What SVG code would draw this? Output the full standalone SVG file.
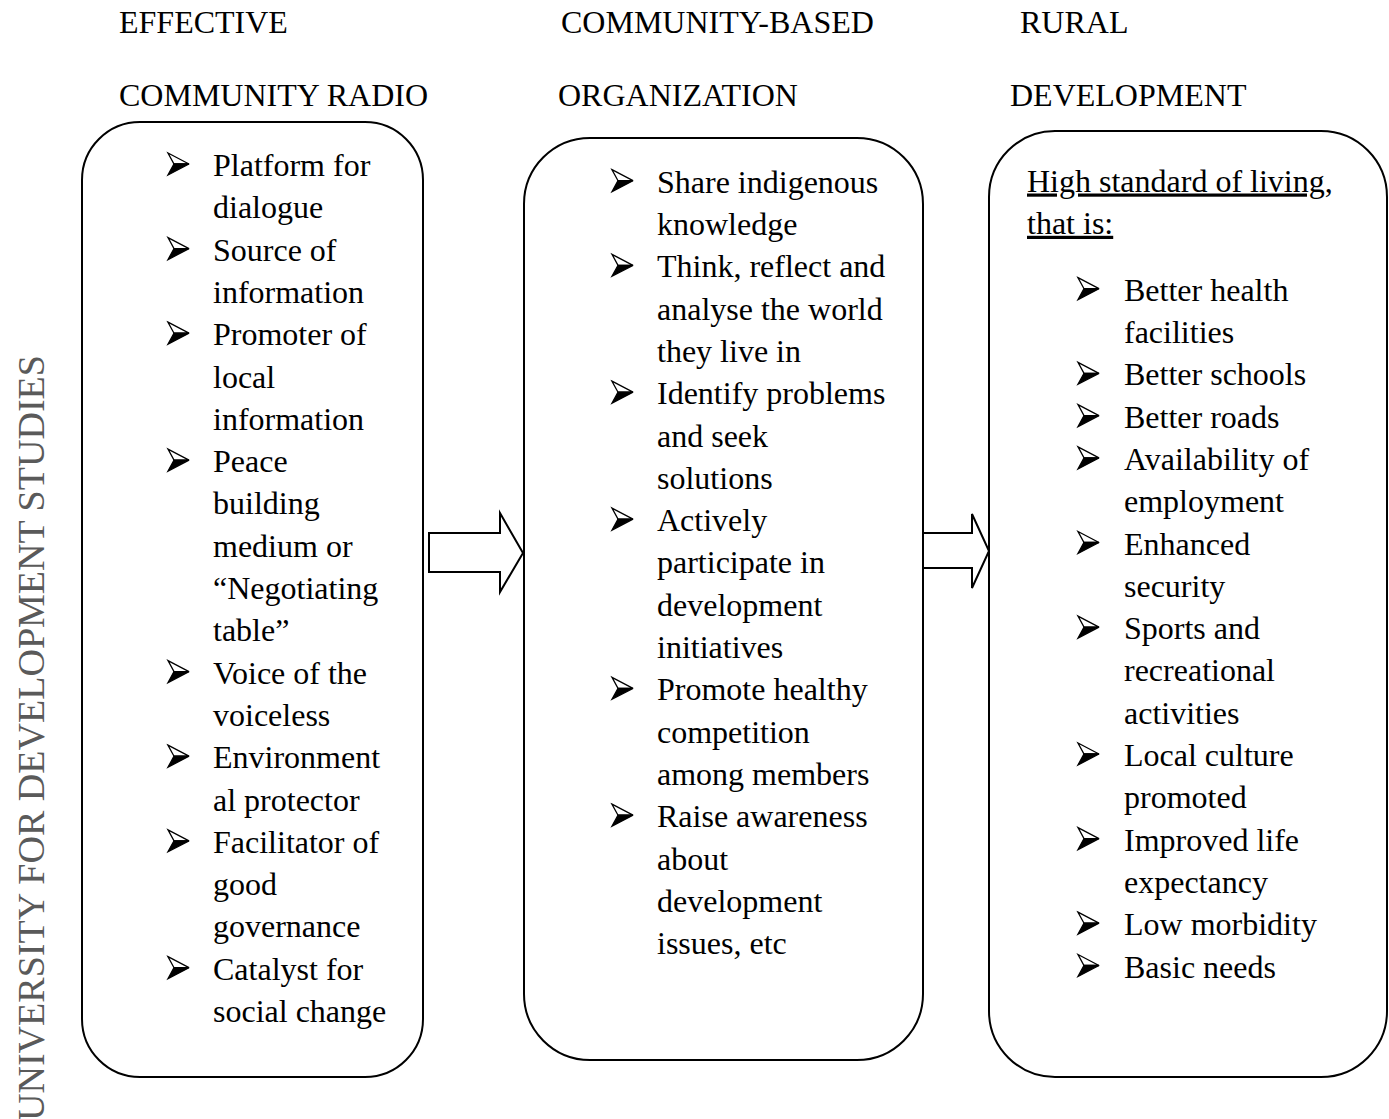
<svg xmlns="http://www.w3.org/2000/svg" xmlns:xlink="http://www.w3.org/1999/xlink" width="1389" height="1119" viewBox="0 0 1389 1119">
  <style>
    .t { font-family: "Liberation Serif", "Times New Roman", serif; font-size: 32px; fill: #000; }
    .box { fill: #fff; stroke: #000; stroke-width: 2; }
    .arrow { fill: #fff; stroke: #000; stroke-width: 2; stroke-linejoin: miter; }
    .wm { font-family: "Liberation Serif", "Times New Roman", serif; font-size: 38px; fill: #5a5a5a; }
    .ul { text-decoration: underline; }
  </style>
  <defs>
    <!-- arrowhead bullet: outlined upper half, filled lower half; origin at left-centre -->
    <g id="bullet">
      <polygon points="0,-11 21,0 6,0" fill="#fff" stroke="#000" stroke-width="1.3" stroke-linejoin="miter"/>
      <polygon points="6,0 21,0 0,11" fill="#000" stroke="#000" stroke-width="1.3" stroke-linejoin="miter"/>
    </g>
  </defs>

  <rect width="1389" height="1119" fill="#fff"/>

  <!-- side watermark -->
  <text class="wm" transform="translate(44,1121) rotate(-90)" textLength="766" lengthAdjust="spacingAndGlyphs">UNIVERSITY FOR DEVELOPMENT STUDIES</text>

  <!-- column headings -->
  <g id="headings">
    <text class="t" x="119" y="33">EFFECTIVE</text>
    <text class="t" x="119" y="106">COMMUNITY RADIO</text>
    <text class="t" x="561" y="33">COMMUNITY-BASED</text>
    <text class="t" x="558" y="106">ORGANIZATION</text>
    <text class="t" x="1020" y="33">RURAL</text>
    <text class="t" x="1010" y="106">DEVELOPMENT</text>
  </g>

  <!-- block arrows between boxes -->
  <g id="connectors">
    <polygon class="arrow" points="429,533 500,533 500,513 523,553 500,592 500,572 429,572"/>
    <polygon class="arrow" points="923,533 972,533 972,514 989,551 972,588 972,568 923,568"/>
  </g>

  <!-- box 1: effective community radio -->
  <g id="node-radio">
    <rect class="box" x="82" y="122" width="341" height="955" rx="58" ry="58"/>
    <use xlink:href="#bullet" x="168" y="164"/>
    <use xlink:href="#bullet" x="168" y="248.6"/>
    <use xlink:href="#bullet" x="168" y="333.2"/>
    <use xlink:href="#bullet" x="168" y="460.1"/>
    <use xlink:href="#bullet" x="168" y="671.6"/>
    <use xlink:href="#bullet" x="168" y="756.2"/>
    <use xlink:href="#bullet" x="168" y="840.8"/>
    <use xlink:href="#bullet" x="168" y="967.7"/>
    <text class="t">
      <tspan x="213" y="176">Platform for</tspan>
      <tspan x="213" y="218.3">dialogue</tspan>
      <tspan x="213" y="260.6">Source of</tspan>
      <tspan x="213" y="302.9">information</tspan>
      <tspan x="213" y="345.2">Promoter of</tspan>
      <tspan x="213" y="387.5">local</tspan>
      <tspan x="213" y="429.8">information</tspan>
      <tspan x="213" y="472.1">Peace</tspan>
      <tspan x="213" y="514.4">building</tspan>
      <tspan x="213" y="556.7">medium or</tspan>
      <tspan x="213" y="599">“Negotiating</tspan>
      <tspan x="213" y="641.3">table”</tspan>
      <tspan x="213" y="683.6">Voice of the</tspan>
      <tspan x="213" y="725.9">voiceless</tspan>
      <tspan x="213" y="768.2">Environment</tspan>
      <tspan x="213" y="810.5">al protector</tspan>
      <tspan x="213" y="852.8">Facilitator of</tspan>
      <tspan x="213" y="895.1">good</tspan>
      <tspan x="213" y="937.4">governance</tspan>
      <tspan x="213" y="979.7">Catalyst for</tspan>
      <tspan x="213" y="1022">social change</tspan>
    </text>
  </g>

  <!-- box 2: community-based organization -->
  <g id="node-cbo">
    <rect class="box" x="524" y="138" width="399" height="922" rx="66" ry="66"/>
    <use xlink:href="#bullet" x="612" y="180.7"/>
    <use xlink:href="#bullet" x="612" y="265.3"/>
    <use xlink:href="#bullet" x="612" y="392.2"/>
    <use xlink:href="#bullet" x="612" y="519.1"/>
    <use xlink:href="#bullet" x="612" y="688.3"/>
    <use xlink:href="#bullet" x="612" y="815.2"/>
    <text class="t">
      <tspan x="657" y="192.7">Share indigenous</tspan>
      <tspan x="657" y="235">knowledge</tspan>
      <tspan x="657" y="277.3">Think, reflect and</tspan>
      <tspan x="657" y="319.6">analyse the world</tspan>
      <tspan x="657" y="361.9">they live in</tspan>
      <tspan x="657" y="404.2">Identify problems</tspan>
      <tspan x="657" y="446.5">and seek</tspan>
      <tspan x="657" y="488.8">solutions</tspan>
      <tspan x="657" y="531.1">Actively</tspan>
      <tspan x="657" y="573.4">participate in</tspan>
      <tspan x="657" y="615.7">development</tspan>
      <tspan x="657" y="658">initiatives</tspan>
      <tspan x="657" y="700.3">Promote healthy</tspan>
      <tspan x="657" y="742.6">competition</tspan>
      <tspan x="657" y="784.9">among members</tspan>
      <tspan x="657" y="827.2">Raise awareness</tspan>
      <tspan x="657" y="869.5">about</tspan>
      <tspan x="657" y="911.8">development</tspan>
      <tspan x="657" y="954.1">issues, etc</tspan>
    </text>
  </g>

  <!-- box 3: rural development -->
  <g id="node-rural">
    <rect class="box" x="989" y="131" width="398" height="946" rx="66" ry="66"/>
    <text class="t ul" x="1027" y="191.5">High standard of living,</text>
    <text class="t ul" x="1027" y="233.8">that is:</text>
    <use xlink:href="#bullet" x="1078" y="288.7"/>
    <use xlink:href="#bullet" x="1078" y="373.3"/>
    <use xlink:href="#bullet" x="1078" y="415.6"/>
    <use xlink:href="#bullet" x="1078" y="457.9"/>
    <use xlink:href="#bullet" x="1078" y="542.5"/>
    <use xlink:href="#bullet" x="1078" y="627.1"/>
    <use xlink:href="#bullet" x="1078" y="754"/>
    <use xlink:href="#bullet" x="1078" y="838.6"/>
    <use xlink:href="#bullet" x="1078" y="923.2"/>
    <use xlink:href="#bullet" x="1078" y="965.5"/>
    <text class="t">
      <tspan x="1124" y="300.7">Better health</tspan>
      <tspan x="1124" y="343">facilities</tspan>
      <tspan x="1124" y="385.3">Better schools</tspan>
      <tspan x="1124" y="427.6">Better roads</tspan>
      <tspan x="1124" y="469.9">Availability of</tspan>
      <tspan x="1124" y="512.2">employment</tspan>
      <tspan x="1124" y="554.5">Enhanced</tspan>
      <tspan x="1124" y="596.8">security</tspan>
      <tspan x="1124" y="639.1">Sports and</tspan>
      <tspan x="1124" y="681.4">recreational</tspan>
      <tspan x="1124" y="723.7">activities</tspan>
      <tspan x="1124" y="766">Local culture</tspan>
      <tspan x="1124" y="808.3">promoted</tspan>
      <tspan x="1124" y="850.6">Improved life</tspan>
      <tspan x="1124" y="892.9">expectancy</tspan>
      <tspan x="1124" y="935.2">Low morbidity</tspan>
      <tspan x="1124" y="977.5">Basic needs</tspan>
    </text>
  </g>
</svg>
